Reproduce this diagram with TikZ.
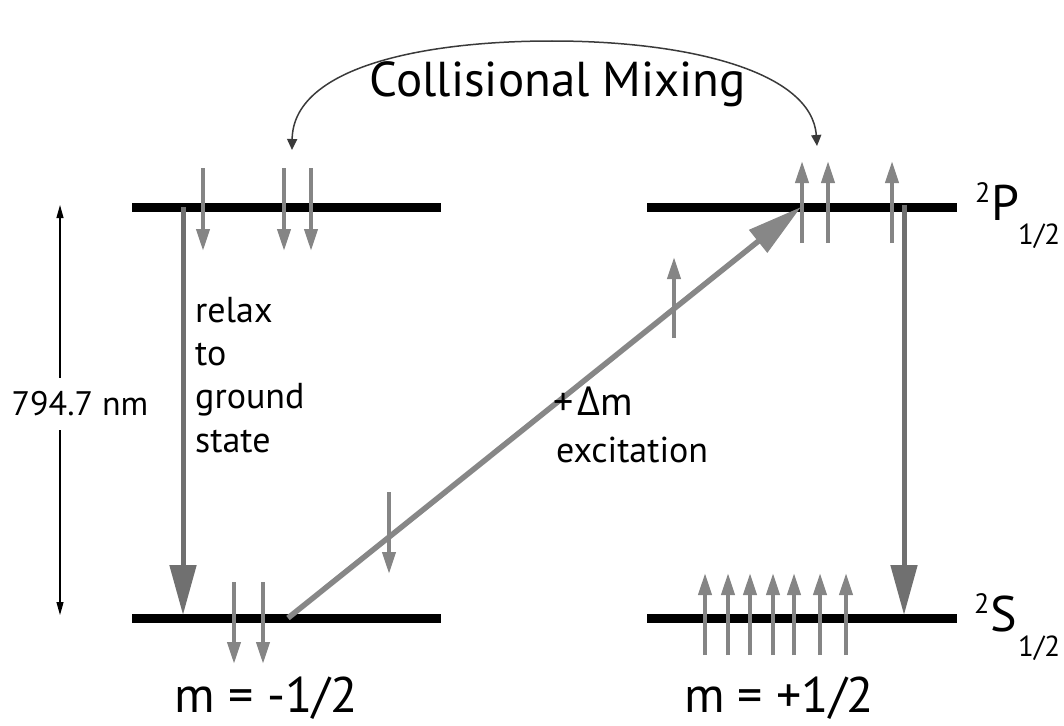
\documentclass[tikz,border=0pt]{standalone}
\usepackage{fontspec}
\setmainfont{PT Sans}
\newfontfamily\grk{Open Sans}
\usetikzlibrary{arrows.meta}
\definecolor{spin}{HTML}{858585}
\definecolor{relaxc}{HTML}{707070}
\definecolor{diagc}{HTML}{878787}
\definecolor{arcc}{HTML}{3A3A3A}
\tikzset{
  level/.style={line width=9pt, black},
  spinarrow/.style={spin, line width=4pt, -{Triangle[length=22pt,width=13pt]}},
  transition/.style={relaxc, line width=5pt, -{Triangle[length=50pt,width=26pt]}},
  excite/.style={diagc, line width=5.5pt, -{Triangle[length=55pt,width=28pt]}},
  mixing/.style={arcc, line width=1.5pt, {Triangle[length=11pt,width=10pt]}-{Triangle[length=11pt,width=10pt]}},
  dim/.style={black, line width=1.2pt, {Triangle[length=13pt,width=7pt]}-{Triangle[length=13pt,width=7pt]}},
  txt/.style={inner sep=0pt, font=\fontsize{#1}{#1}\selectfont},
}
\begin{document}
\begin{tikzpicture}[x=1pt,y=-1pt]
\path[use as bounding box] (0,0) rectangle (1064,725);

% energy levels
\coordinate (tlA) at (132,207); \coordinate (tlB) at (441,207);
\coordinate (trA) at (647,207); \coordinate (trB) at (957,207);
\coordinate (blA) at (132,618); \coordinate (blB) at (441,618);
\coordinate (brA) at (647,618); \coordinate (brB) at (957,618);
\draw[level] (tlA) -- (tlB);
\draw[level] (trA) -- (trB);
\draw[level] (blA) -- (blB);
\draw[level] (brA) -- (brB);

% level labels
\node[txt=28, anchor=base west] (p2) at (975,202) {2};
\node[txt=50, anchor=base west] (pP) at (991,220) {P};
\node[txt=29, anchor=base west] (p12) at (1018,244) {1/2};
\node[txt=28, anchor=base west] (s2) at (974,613) {2};
\node[txt=50, anchor=base west] (sS) at (990,631) {S};
\node[txt=29, anchor=base west] (s12) at (1018,656) {1/2};

% relaxation arrows
\coordinate (rl1) at (183,207); \coordinate (rl2) at (183,615);
\coordinate (rr1) at (904,205); \coordinate (rr2) at (904,615);
\draw[transition] (rl1) -- (rl2);
\draw[transition] (rr1) -- (rr2);

% excitation arrow
\coordinate (ex1) at (288,618); \coordinate (ex2) at (801,207);
\draw[excite] (ex1) -- (ex2);

% spin arrows
\foreach \x in {203,284,311} \draw[spinarrow] (\x,168) -- (\x,251);
\foreach \x in {802,828,892} \draw[spinarrow] (\x,243) -- (\x,161);
\foreach \x in {234,263} \draw[spinarrow] (\x,582) -- (\x,664);
\foreach \x in {705,728,750,773,794,820,846} \draw[spinarrow] (\x,655) -- (\x,573);
\draw[spinarrow] (389,492) -- (389,574);
\draw[spinarrow] (674,338) -- (674,257);

% collisional mixing
\coordinate (ml) at (292,150); \coordinate (mr) at (817,146);
\draw[mixing] (ml) .. controls (293,68) and (420,41) .. (552,41) .. controls (690,41) and (812,72) .. (mr);
\node[txt=49, anchor=base] (cm) at (558,96) {Collisional Mixing};

% dimension
\coordinate (d1) at (60,205); \coordinate (d2) at (60,615);
\draw[dim] (d1) -- (d2);
\node[txt=34, fill=white, inner ysep=14pt, inner xsep=1pt] (nm) at (80,404) {794.7 nm};

% text labels
\node[txt=36, anchor=base west] (r1) at (195,322) {relax};
\node[txt=36, anchor=base west] (r2) at (195,365) {to};
\node[txt=36, anchor=base west] (r3) at (195,408) {ground};
\node[txt=36, anchor=base west] (r4) at (195,452) {state};
\node[txt=40, anchor=base west] (e1) at (553,415) {+\hspace{4pt}{\grk Δ}m};
\node[txt=36, anchor=base west] (e2) at (556,462) {excitation};
\node[txt=50, anchor=base] (m1) at (266,712) {m = -1/2};
\node[txt=50, anchor=base] (m2) at (779,712) {m = +1/2};
\end{tikzpicture}
\end{document}
